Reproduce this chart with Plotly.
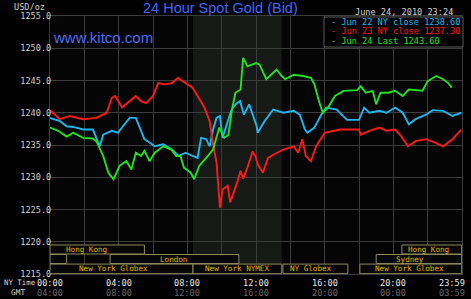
import plotly.graph_objects as go

# ---------------- data (hours NY time, USD/oz) ----------------
jun22_t = [0, 0.58, 0.97, 1.35, 1.93, 2.5, 2.9, 3.1, 3.6, 3.96, 4.25, 4.64, 5.0, 5.2, 5.5, 5.8, 6.1, 6.6,
           7.1, 7.5, 7.9, 8.3, 8.6, 8.8, 9.1, 9.3, 9.5, 9.7, 9.9, 10.05, 10.35, 10.55, 10.8, 11.07, 11.3,
           11.6, 12.04, 12.1, 12.5, 13.0, 13.6, 14.2, 14.55, 14.85, 15.0, 15.4, 15.8, 16.1, 16.7, 17.3,
           18.0, 18.3, 18.6, 19.2, 19.6, 20.1, 20.55, 20.9, 21.3, 21.9, 22.3, 22.9, 23.45, 23.95]
jun22_v = [1239.2, 1238.7, 1237.9, 1237.8, 1237.4, 1237.4, 1234.8, 1236.6, 1237.2, 1236.9, 1237.9, 1239.2,
           1239.2, 1237.9, 1235.9, 1235.4, 1234.8, 1235.1, 1234.3, 1233.3, 1233.8, 1233.3, 1233.0, 1236.1,
           1235.9, 1234.8, 1237.4, 1239.2, 1239.5, 1236.1, 1238.5, 1240.3, 1241.3, 1241.8, 1239.7, 1241.3,
           1237.9, 1236.9, 1238.7, 1240.5, 1240.0, 1240.3, 1239.7, 1237.4, 1236.9, 1237.7, 1239.7, 1240.8,
           1240.5, 1238.9, 1238.9, 1240.8, 1240.0, 1240.3, 1240.0, 1240.8, 1240.0, 1238.2, 1239.0, 1239.7,
           1240.4, 1240.3, 1239.5, 1240.0]

jun23_t = [0, 0.58, 1.16, 1.93, 2.7, 3.3, 3.6, 3.8, 4.2, 4.5, 5.0, 5.3, 5.6, 6.0, 6.3, 6.7, 7.1, 7.45,
           7.9, 8.3, 8.6, 9.0, 9.3, 9.5, 9.7, 9.9, 10.05, 10.35, 10.5, 10.7, 10.9, 11.1, 11.25, 11.5,
           11.8, 12.0, 12.1, 12.4, 12.7, 13.1, 13.6, 14.2, 14.45, 14.7, 14.9, 15.2, 15.5, 16.0, 16.9,
           18.0, 18.1, 18.6, 19.2, 19.6, 20.1, 20.45, 20.85, 21.3, 21.9, 22.4, 22.9, 23.45, 23.95]
jun23_v = [1240.4, 1239.0, 1239.5, 1239.0, 1239.2, 1240.0, 1242.3, 1242.6, 1240.8, 1241.5, 1242.6, 1241.8,
           1241.5, 1242.6, 1244.6, 1244.4, 1244.6, 1245.4, 1244.6, 1243.9, 1242.6, 1240.8, 1238.7, 1235.1,
           1232.3, 1225.3, 1228.1, 1228.7, 1226.1, 1227.6, 1229.2, 1231.0, 1229.8, 1231.5, 1234.0, 1233.0,
           1232.0, 1230.7, 1233.0, 1233.6, 1234.3, 1234.8, 1233.8, 1235.9, 1233.3, 1232.5, 1234.8, 1236.9,
           1237.4, 1237.4, 1236.6, 1237.2, 1237.7, 1237.2, 1237.4, 1236.4, 1234.8, 1235.6, 1235.9, 1235.4,
           1234.8, 1235.9, 1237.4]

jun24_t = [0, 0.48, 0.97, 1.35, 1.93, 2.5, 2.7, 3.1, 3.4, 3.7, 4.06, 4.45, 4.74, 5.0, 5.3, 5.5, 5.8,
           6.1, 6.6, 7.06, 7.35, 7.6, 7.8, 8.2, 8.4, 8.7, 9.1, 9.5, 9.86, 10.15, 10.4, 10.6, 10.8, 11.1,
           11.25, 11.5, 11.8, 12.0, 12.2, 12.6, 13.0, 13.2, 13.5, 13.7, 14.2, 14.75, 15.2, 15.4, 15.7,
           15.9, 16.2, 16.6, 17.1, 17.9, 18.1, 18.4, 18.8, 19.0, 19.25, 19.7, 20.1, 20.55, 20.9, 21.7,
           22.0, 22.5, 22.9, 23.2, 23.4]
jun24_v = [1237.7, 1237.2, 1236.3, 1236.9, 1236.1, 1236.0, 1235.6, 1233.3, 1230.7, 1229.7, 1231.8, 1232.5,
           1231.2, 1233.8, 1233.3, 1234.1, 1232.5, 1233.8, 1234.8, 1234.3, 1233.3, 1233.3, 1231.5, 1230.7,
           1229.7, 1231.8, 1233.0, 1234.3, 1237.7, 1236.1, 1236.6, 1240.5, 1243.1, 1243.6, 1248.5, 1247.2,
           1247.5, 1247.7, 1247.5, 1245.2, 1246.2, 1246.7, 1245.7, 1245.2, 1245.9, 1245.7, 1245.4, 1244.4,
           1241.5, 1240.0, 1240.8, 1242.6, 1243.4, 1243.5, 1244.1, 1243.1, 1243.4, 1241.3, 1243.1, 1243.1,
           1243.4, 1242.6, 1243.6, 1243.4, 1244.9, 1245.7, 1245.2, 1244.6, 1243.9]

series_names = ["Jun 22 NY close 1238.60", "Jun 23 NY close 1237.30", "Jun 24 Last 1243.60"]
series_colors = ["#1eb6ee", "#ff1a1a", "#22e022"]

y_ticks = [1215, 1220, 1225, 1230, 1235, 1240, 1245, 1250, 1255]
ny_hours = [0, 4, 8, 12, 16, 20]
ny_labels = ["00:00", "04:00", "08:00", "12:00", "16:00", "20:00"]
gmt_labels = ["04:00", "08:00", "12:00", "16:00", "20:00", "00:00"]

# market sessions: (label, start, end, row, label_hour)
sessions = [
    ("Hong Kong", 0.0, 5.5, 0, 2.15),
    ("", 0.0, 0.97, 1, None),
    ("London", 3.5, 11.0, 1, 7.2),
    ("New York Globex", 0.0, 8.33, 2, 3.67),
    ("New York NYMEX", 8.33, 13.5, 2, 10.92),
    ("NY Globex", 13.57, 17.35, 2, 15.2),
    ("New York Globex", 18.05, 23.98, 2, 20.97),
    ("Sydney", 19.0, 23.98, 1, 20.97),
    ("Hong Kong", 20.5, 23.98, 0, 22.07),
]
row_bounds = [(1218.10, 1219.50), (1216.62, 1218.02), (1215.05, 1216.54)]

# ---------------- figure ----------------
W, H = 471, 299
L, R, T, B = 50, 9, 16, 25
PW, PH = W - L - R, H - T - B
MONO = "DejaVu Sans Mono"


def px(x):
    return (x - L) / PW


def py(y):
    return (H - B - y) / PH


fig = go.Figure()
for t, v, name, col in zip([jun22_t, jun23_t, jun24_t], [jun22_v, jun23_v, jun24_v],
                           series_names, series_colors):
    fig.add_trace(go.Scatter(x=t, y=v, mode="lines", name=name,
                             line=dict(color=col, width=1.9), showlegend=False))

shapes = [
    dict(type="rect", xref="x", yref="paper", x0=8.33, x1=13.5, y0=0, y1=1,
         fillcolor="#161916", line=dict(width=0), layer="below"),
]
annotations = []
for label, s, e, row, lh in sessions:
    y0, y1 = row_bounds[row]
    shapes.append(dict(type="rect", xref="x", yref="y", x0=s, x1=e, y0=y0, y1=y1,
                       fillcolor="#070707", line=dict(color="#8e8a5c", width=1), layer="above"))
    if label:
        annotations.append(dict(x=lh, y=(y0 + y1) / 2, xref="x", yref="y", text=label,
                                showarrow=False, font=dict(family=MONO, size=7.6, color="#e2b400"),
                                xanchor="center", yanchor="middle"))

# legend box
shapes.append(dict(type="rect", xref="paper", yref="paper", x0=px(324), x1=px(463),
                   y0=py(47), y1=py(17), fillcolor="#000000",
                   line=dict(color="#5a5a5a", width=1), layer="above"))
for i, (name, col) in enumerate(zip(series_names, series_colors)):
    annotations.append(dict(x=px(329), y=py(21.5 + i * 9.6), xref="paper", yref="paper",
                            text="- " + name, showarrow=False, xanchor="left", yanchor="middle",
                            font=dict(family=MONO, size=8.6, color=col)))

# titles
annotations += [
    dict(x=px(220), y=py(8.5), xref="paper", yref="paper", text="24 Hour Spot Gold (Bid)",
         showarrow=False, xanchor="center", yanchor="middle",
         font=dict(family="Liberation Sans", size=14.5, color="#3f66ff")),
    dict(x=px(51), y=py(37), xref="paper", yref="paper", text="www.kitco.com",
         showarrow=False, xanchor="left", yanchor="middle",
         font=dict(family="Liberation Sans", size=15, color="#4a6cf5")),
    dict(x=px(455), y=py(12.5), xref="paper", yref="paper", text="June 24, 2010 23:24",
         showarrow=False, xanchor="right", yanchor="middle",
         font=dict(family=MONO, size=8.6, color="#d6d6d6")),
    dict(x=px(47), y=py(7), xref="paper", yref="paper", text="USD/oz",
         showarrow=False, xanchor="right", yanchor="middle",
         font=dict(family=MONO, size=8.6, color="#cfcfcf")),
    dict(x=px(2), y=py(282), xref="paper", yref="paper", text="NY Time",
         showarrow=False, xanchor="left", yanchor="middle",
         font=dict(family=MONO, size=7.4, color="#d6d6d6")),
    dict(x=px(9), y=py(292), xref="paper", yref="paper", text="GMT",
         showarrow=False, xanchor="left", yanchor="middle",
         font=dict(family=MONO, size=7.8, color="#d6d6d6")),
]
for h, a, g in zip(ny_hours, ny_labels, gmt_labels):
    annotations.append(dict(x=h, y=py(283), xref="x", yref="paper", text=a, showarrow=False,
                            xanchor="center", yanchor="middle",
                            font=dict(family=MONO, size=8.6, color="#e8e8e8")))
    annotations.append(dict(x=h, y=py(293), xref="x", yref="paper", text=g, showarrow=False,
                            xanchor="center", yanchor="middle",
                            font=dict(family=MONO, size=8.6, color="#6a6a6a")))
annotations.append(dict(x=px(467), y=py(283), xref="paper", yref="paper", text="23:59",
                        showarrow=False, xanchor="right", yanchor="middle",
                        font=dict(family=MONO, size=8.6, color="#e8e8e8")))
annotations.append(dict(x=px(467), y=py(293), xref="paper", yref="paper", text="03:59",
                        showarrow=False, xanchor="right", yanchor="middle",
                        font=dict(family=MONO, size=8.6, color="#6a6a6a")))

fig.update_layout(
    width=W, height=H, margin=dict(l=L, r=R, t=T, b=B, pad=0),
    paper_bgcolor="#000000", plot_bgcolor="#050505",
    shapes=shapes, annotations=annotations, showlegend=False,
    xaxis=dict(range=[0, 24], dtick=2, tick0=0, showgrid=True, gridcolor="#3c3c3c", gridwidth=1,
               showticklabels=False, zeroline=False, showline=True, linecolor="#3c3c3c",
               mirror=True, ticks=""),
    yaxis=dict(range=[1215, 1255], tickvals=y_ticks, ticktext=[f"{v:.1f}" for v in y_ticks],
               showgrid=True, gridcolor="#3c3c3c", gridwidth=1, zeroline=False,
               showline=True, linecolor="#3c3c3c", mirror=True, ticks="",
               ticklabelstandoff=-4,
               tickfont=dict(family=MONO, size=8.6, color="#cfcfcf")),
)

fig.write_html("out.html")
